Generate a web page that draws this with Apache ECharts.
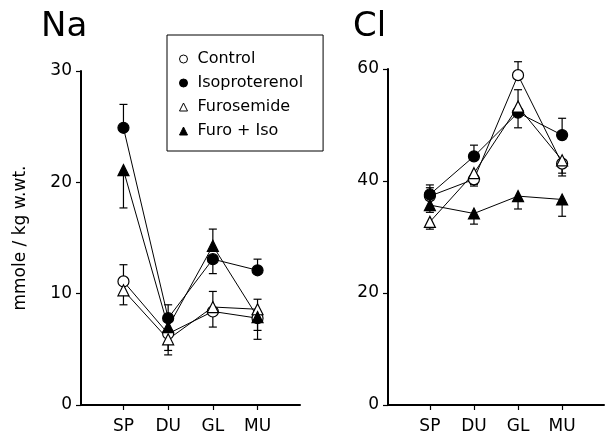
<!DOCTYPE html>
<html>
<head>
<meta charset="utf-8">
<script src="https://cdn.jsdelivr.net/npm/echarts@6/dist/echarts.min.js"></script>
<style>
  html, body { margin: 0; padding: 0; background: #fff; }
  #chart { width: 605px; height: 440px; }
</style>
</head>
<body>
<div id="chart"></div>
<script>
const categories = ['SP', 'DU', 'GL', 'MU']
const groups = ['Control', 'Isoproterenol', 'Furosemide', 'Furo + Iso']

// Na, mmole/kg w.wt. (mean and end of the one-sided error bar)
const naControl = [11.1, 6.4, 8.4, 7.8]
const naControlErr = [12.6, 4.5, 7.0, 5.9]
const naIso = [24.9, 7.8, 13.1, 12.1]
const naIsoErr = [27.0, null, 11.8, 13.1]
const naFuro = [10.3, 5.9, 8.8, 8.6]
const naFuroErr = [9.0, 4.9, 10.2, 9.5]
const naFuroIso = [21.1, 7.0, 14.3, 7.9]
const naFuroIsoErr = [17.7, 9.0, 15.8, 6.7]

// Cl
const clControl = [37.3, 40.3, 58.9, 43.1]
const clControlErr = [38.8, 39.1, 61.3, 40.9]
const clIso = [37.6, 44.4, 52.2, 48.2]
const clIsoErr = [39.3, 46.4, 49.5, 51.2]
const clFuro = [32.7, 41.4, 53.3, 43.7]
const clFuroErr = [31.4, 39.4, 56.3, 41.4]
const clFuroIso = [35.7, 34.2, 37.3, 36.7]
const clFuroIsoErr = [34.4, 32.3, 35.0, 33.7]

const naTicks = [0, 10, 20, 30]
const clTicks = [0, 20, 40, 60]

const font = 'DejaVu Sans'
const chart = echarts.init(document.getElementById('chart'))

const styles = [
  { symbol: 'circle', color: '#fff' },
  { symbol: 'circle', color: '#000' },
  { symbol: 'triangle', color: '#fff' },
  { symbol: 'triangle', color: '#000' }
]

// 均值折线
function lineSeries(name, values, axis, st) {
  return {
    name: name,
    type: 'line',
    xAxisIndex: axis,
    yAxisIndex: axis,
    data: values.map((v, i) => [i, v]),
    symbol: st.symbol,
    symbolSize: 11,
    z: 3,
    itemStyle: { color: st.color, borderColor: '#000', borderWidth: 1.2 },
    lineStyle: { color: '#000', width: 1 },
    emphasis: { disabled: true },
    animation: false
  }
}

// 误差线（单侧，带横帽）
function errSeries(name, values, errs, axis) {
  const data = []
  values.forEach((v, i) => { if (errs[i] != null) data.push([i, v, errs[i]]) })
  return {
    name: name,
    type: 'custom',
    xAxisIndex: axis,
    yAxisIndex: axis,
    z: 2,
    data: data,
    renderItem: (params, api) => {
      const p0 = api.coord([api.value(0), api.value(1)])
      const p1 = api.coord([api.value(0), api.value(2)])
      const style = { stroke: '#000', lineWidth: 1.2 }
      return {
        type: 'group',
        children: [
          { type: 'line', shape: { x1: p0[0], y1: p0[1], x2: p1[0], y2: p1[1] }, style: style },
          { type: 'line', shape: { x1: p1[0] - 4, y1: p1[1], x2: p1[0] + 4, y2: p1[1] }, style: style }
        ]
      }
    },
    animation: false
  }
}

const naSets = [[naControl, naControlErr], [naIso, naIsoErr], [naFuro, naFuroErr], [naFuroIso, naFuroIsoErr]]
const clSets = [[clControl, clControlErr], [clIso, clIsoErr], [clFuro, clFuroErr], [clFuroIso, clFuroIsoErr]]

const series = []
naSets.forEach((s, k) => {
  series.push(errSeries(groups[k], s[0], s[1], 0))
  series.push(lineSeries(groups[k], s[0], 0, styles[k]))
})
clSets.forEach((s, k) => {
  series.push(errSeries(groups[k], s[0], s[1], 1))
  series.push(lineSeries(groups[k], s[0], 1, styles[k]))
})

function xAxis(grid) {
  return {
    type: 'value',
    gridIndex: grid,
    min: -0.95,
    max: 3.95,
    splitLine: { show: false },
    axisLine: { onZero: false, lineStyle: { color: '#000', width: 2 } },
    axisTick: { customValues: [0, 1, 2, 3], length: 5, lineStyle: { color: '#000', width: 1.2 } },
    axisLabel: {
      customValues: [0, 1, 2, 3],
      formatter: v => categories[v],
      color: '#000', fontSize: 17, fontFamily: font, margin: 13
    }
  }
}

function yAxis(grid, ticks, name) {
  return {
    type: 'value',
    gridIndex: grid,
    min: ticks[0],
    max: ticks[ticks.length - 1],
    interval: ticks[1] - ticks[0],
    name: name,
    nameLocation: 'middle',
    nameGap: 52,
    nameRotate: 90,
    nameTextStyle: { color: '#000', fontSize: 17, fontFamily: font },
    splitLine: { show: false },
    axisLine: { show: true, onZero: false, lineStyle: { color: '#000', width: 2 } },
    axisTick: { show: true, length: 5, lineStyle: { color: '#000', width: 1.2 } },
    axisLabel: { color: '#000', fontSize: 17, fontFamily: font, margin: 9 }
  }
}

chart.setOption({
  backgroundColor: '#fff',
  animation: false,
  title: [
    { text: 'Na', left: 36, top: 5, textStyle: { fontSize: 34, fontWeight: 'normal', fontFamily: font, color: '#000' } },
    { text: 'Cl', left: 348, top: 5, textStyle: { fontSize: 34, fontWeight: 'normal', fontFamily: font, color: '#000' } }
  ],
  legend: {
    data: groups.map((g, k) => ({
      name: g,
      icon: styles[k].symbol,
      itemStyle: { color: styles[k].color, borderColor: '#000', borderWidth: 1 }
    })),
    orient: 'vertical',
    left: 167,
    top: 35,
    padding: [15, 20, 11, 12],
    itemGap: 6,
    itemWidth: 8,
    itemHeight: 8,
    borderColor: '#000',
    borderWidth: 1,
    selectedMode: false,
    textStyle: { color: '#000', fontSize: 16, lineHeight: 18, fontFamily: font, padding: [0, 0, 0, 5] }
  },
  grid: [
    { left: 81, right: 305, top: 71, bottom: 35 },
    { left: 388, right: 1, top: 69, bottom: 35 }
  ],
  xAxis: [xAxis(0), xAxis(1)],
  yAxis: [yAxis(0, naTicks, 'mmole / kg w.wt.'), yAxis(1, clTicks, '')],
  series: series
})
</script>
</body>
</html>
